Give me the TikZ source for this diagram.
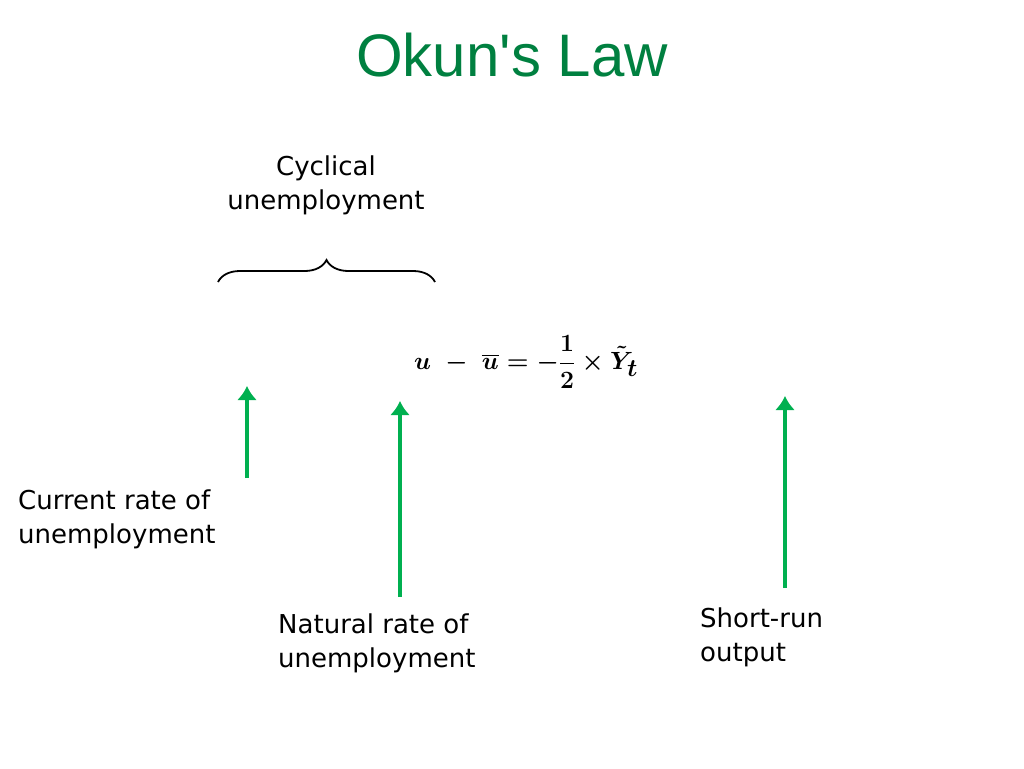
\documentclass[tikz,border=0pt]{standalone}
\usepackage{amsmath}
\usepackage{fontspec}
\usetikzlibrary{decorations.pathreplacing,arrows.meta}
\newfontfamily\titlefont{Liberation Sans}
\newfontfamily\labfont{DejaVu Sans}
\definecolor{titlegreen}{RGB}{0,128,64}
\definecolor{arrowgreen}{RGB}{0,176,80}
\newsavebox\myeqbox
\newsavebox\mytitlebox
\begin{document}
\savebox\myeqbox{\fontsize{62}{70}\selectfont\boldmath$\displaystyle u\;-\;\overline{u}=-\frac{1}{2}\times\tilde{Y}_t$}%
\savebox\mytitlebox{\titlefont\fontsize{60}{66}\selectfont\color{titlegreen}Okun'{}s Law}%
\begin{tikzpicture}[x=1pt,y=-1pt,
  lab/.style={font=\labfont\fontsize{26}{34}\selectfont,align=left,inner sep=0pt},
  garrow/.style={draw=arrowgreen,line width=4.5pt,-{Latex[length=14pt,width=20pt]}}]
\useasboundingbox (0,0) rectangle (1024,768);
\node (title) at (512,55) {\usebox\mytitlebox};
\node (equation) at (526,362) {\usebox\myeqbox};
\coordinate (bl) at (218,282);
\coordinate (br) at (435,282);
\draw[line width=1.8pt,decorate,decoration={brace,amplitude=22pt}] (bl) -- (br);
\node[lab,align=center] (cyc) at (326,185) {Cyclical\\unemployment};
\node[lab,anchor=north west] (cur) at (18,490) {Current rate of\\unemployment};
\node[lab,anchor=north west] (nat) at (278,614) {Natural rate of\\unemployment};
\node[lab,anchor=north west] (sr) at (700,608) {Short-run\\output};
\coordinate (a1s) at (247,478); \coordinate (a1e) at (247,386);
\coordinate (a2s) at (400,597); \coordinate (a2e) at (400,401);
\coordinate (a3s) at (785,588); \coordinate (a3e) at (785,396);
\draw[garrow] (a1s) -- (a1e);
\draw[garrow] (a2s) -- (a2e);
\draw[garrow] (a3s) -- (a3e);
\end{tikzpicture}
\end{document}
